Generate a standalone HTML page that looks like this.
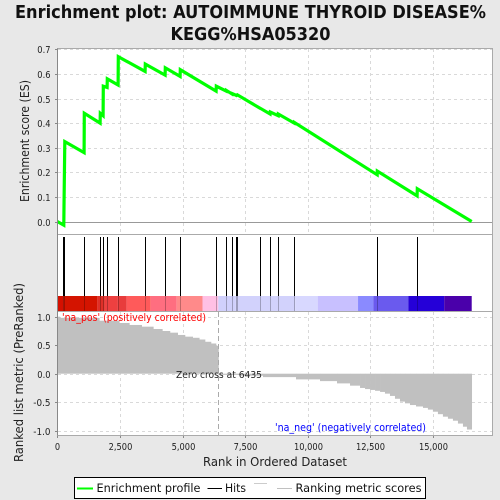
<!DOCTYPE html>
<html>
<head>
<meta charset="utf-8">
<title>Enrichment plot</title>
<style>
html,body{margin:0;padding:0;background:#e8e8e8;}
svg{display:block;font-family:"DejaVu Sans","Liberation Sans",sans-serif;}
</style>
</head>
<body>
<svg id="chart" xmlns="http://www.w3.org/2000/svg" width="500" height="500" viewBox="0 0 500 500">
  <rect x="0" y="0" width="500" height="500" fill="#e8e8e8"/>
  <text x="15" y="18" font-size="17.5" font-weight="bold" fill="#111" textLength="471" lengthAdjust="spacingAndGlyphs">Enrichment plot: AUTOIMMUNE THYROID DISEASE%</text>
  <text x="170.5" y="40" font-size="17.5" font-weight="bold" fill="#111" textLength="160" lengthAdjust="spacingAndGlyphs">KEGG%HSA05320</text>

  <rect x="57.5" y="48.5" width="435" height="186" fill="#fff"/>
  <rect x="57.5" y="234.5" width="435" height="77" fill="#fff"/>
  <rect x="57.5" y="311.5" width="435" height="124" fill="#fff"/>

  <g id="grid"></g>
  <g id="metric"></g>
  <g id="bar"></g>
  <g id="hits"></g>
  <g id="es"></g>
  <g id="axes"></g>

  <rect x="57.5" y="48.5" width="435" height="186" fill="none" stroke="#aaa"/>
  <rect x="57.5" y="234.5" width="435" height="77" fill="none" stroke="#aaa"/>
  <rect x="57.5" y="311.5" width="435" height="124" fill="none" stroke="#aaa"/>
  <line x1="57.5" x2="57.5" y1="48.5" y2="435.5" stroke="#888"/>

  <text x="62" y="321" font-size="10.5" fill="#ff0000" textLength="144" lengthAdjust="spacingAndGlyphs">'na_pos' (positively correlated)</text>
  <text x="176" y="378" font-size="9.5" fill="#222" textLength="86" lengthAdjust="spacingAndGlyphs">Zero cross at 6435</text>
  <text x="275" y="431" font-size="10.5" fill="#0000ff" textLength="151" lengthAdjust="spacingAndGlyphs">'na_neg' (negatively correlated)</text>

  <text transform="translate(29,202) rotate(-90)" font-size="12" fill="#222" textLength="122" lengthAdjust="spacingAndGlyphs">Enrichment score (ES)</text>
  <text transform="translate(23,462) rotate(-90)" font-size="12" fill="#222" textLength="179" lengthAdjust="spacingAndGlyphs">Ranked list metric (PreRanked)</text>
  <text x="203" y="466" font-size="12" fill="#222" textLength="144" lengthAdjust="spacingAndGlyphs">Rank in Ordered Dataset</text>

  <g>
    <rect x="74.5" y="477.5" width="351" height="21" fill="#fff" stroke="#000"/>
    <line x1="77" x2="93" y1="488.5" y2="488.5" stroke="#00ff00" stroke-width="2"/>
    <text x="96.5" y="492" font-size="11.5" fill="#111" textLength="104" lengthAdjust="spacingAndGlyphs">Enrichment profile</text>
    <line x1="207.5" x2="222" y1="488.5" y2="488.5" stroke="#000"/>
    <text x="225" y="492" font-size="11.5" fill="#111" textLength="21" lengthAdjust="spacingAndGlyphs">Hits</text>
    <line x1="254" x2="267" y1="483.5" y2="483.5" stroke="#ccc"/>
    <line x1="277" x2="292" y1="488.5" y2="488.5" stroke="#c0c0c0"/>
    <text x="295.5" y="492" font-size="11.5" fill="#111" textLength="126" lengthAdjust="spacingAndGlyphs">Ranking metric scores</text>
  </g>
</svg>
<script>
const esRanks = [0,260,268,300,1070,1078,1710,1717,1830,1837,1990,1997,2430,2436,3505,3514,4305,4313,4905,4912,6340,6350,6745,6749,6985,6989,7155,7190,8100,8107,8500,8506,8820,8826,9460,9465,12775,12780,14370,14377,16550];
const esValues = [0,-0.015,0.06,0.325,0.28,0.44,0.40,0.44,0.43,0.55,0.545,0.58,0.555,0.67,0.61,0.64,0.595,0.625,0.59,0.617,0.53,0.55,0.53,0.533,0.518,0.52,0.512,0.515,0.46,0.46,0.437,0.445,0.43,0.437,0.40,0.403,0.19,0.205,0.104,0.133,0];
const hitRanks = [250,300,1078,1717,1837,1997,2436,3514,4313,4912,6350,6749,6989,7160,7190,8107,8506,8826,9465,12780,14377];
const metricRanks = [0,100,1678,2477,2877,3370,3835,4195,4500,4808,5100,5407,5670,5900,6138,6338,6435,7300,8215,9533,10491,11170,11690,12090,12290,12490,12690,12890,13085,13285,13485,13685,13885,14085,14325,14604,14800,15000,15200,15400,15600,15800,16000,16200,16360];
const metricValues = [1.0,0.98,0.93,0.89,0.855,0.825,0.784,0.749,0.72,0.68,0.65,0.63,0.60,0.56,0.53,0.49,-0.02,-0.035,-0.06,-0.1,-0.13,-0.17,-0.21,-0.25,-0.27,-0.285,-0.30,-0.32,-0.35,-0.39,-0.44,-0.49,-0.52,-0.55,-0.575,-0.60,-0.63,-0.667,-0.71,-0.754,-0.79,-0.825,-0.875,-0.93,-0.98];
const metricEndRank = 16550;
const zeroCrossRank = 6435;
const barEdges = [0,250,1600,1900,2400,2770,3730,4770,5800,6430,7100,9500,10400,12010,12620,14020,15450,16550];
const barColors = ["#d41000","#d41400","#e03028","#ee4040","#e83c3c","#ff5a5a","#ff6e80","#ff8a8a","#ffc0e4","#d0d0fc","#d2d2fc","#d8d8ff","#c8c0ff","#8a8aff","#6a5aee","#2500d8","#4a00aa"];
const esTicks = [0,0.1,0.2,0.3,0.4,0.5,0.6,0.7];
const esTickLabels = ["0.0","0.1","0.2","0.3","0.4","0.5","0.6","0.7"];
const metricTicks = [-1,-0.5,0,0.5,1];
const metricTickLabels = ["-1.0","-0.5","0.0","0.5","1.0"];
const rankTicks = [0,2500,5000,7500,10000,12500,15000];
const rankTickLabels = ["0","2,500","5,000","7,500","10,000","12,500","15,000"];

const NS = "http://www.w3.org/2000/svg";
const xScale = r => 57.3 + r * 0.02504;
const esY = v => 221.5 - v * 246;
const metricY = v => 373.7 - v * 57;
function labelWidth(s) {
  let w = 0;
  for (const ch of s) w += /[0-9]/.test(ch) ? 5.25 : (ch === "-" ? 4 : 2.7);
  return w;
}
function mk(parent, tag, attrs, text) {
  const el = document.createElementNS(NS, tag);
  for (const k in attrs) el.setAttribute(k, attrs[k]);
  if (text !== undefined) el.textContent = text;
  parent.appendChild(el);
  return el;
}
const grid = document.getElementById("grid");
const axes = document.getElementById("axes");
const dash = {stroke:"#d9d9d9","stroke-dasharray":"3,3","stroke-width":1};

rankTicks.forEach((r, i) => {
  const x = Math.round(xScale(r)) + 0.5;
  if (i > 0) {
    const a = mk(grid, "line", Object.assign({x1:x,x2:x,y1:49,y2:234}, dash));
    
    
    const b = mk(grid, "line", Object.assign({x1:x,x2:x,y1:312,y2:435}, dash));
    
    
  }
  const t = mk(axes, "line", {x1:x,x2:x,y1:435.5,y2:438,stroke:"#888"});
  
  
  const l = mk(axes, "text", {x:x,y:450,"font-size":10,fill:"#222","text-anchor":"middle",textLength:labelWidth(rankTickLabels[i]),lengthAdjust:"spacingAndGlyphs"}, rankTickLabels[i]);
  
  
});
esTicks.forEach((v, i) => {
  const y = Math.round(esY(v)) + 0.5;
  if (v !== 0) {
    const g = mk(grid, "line", Object.assign({x1:58,x2:492,y1:y,y2:y}, dash));
    
    
  }
  const t = mk(axes, "line", {x1:55,x2:57.5,y1:y,y2:y,stroke:"#888"});
  
  
  const l = mk(axes, "text", {x:50.5,y:y+3.5,"font-size":10,fill:"#222","text-anchor":"end",textLength:labelWidth(esTickLabels[i]),lengthAdjust:"spacingAndGlyphs"}, esTickLabels[i]);
  
  
});
const zeroLine = mk(grid, "line", {x1:58,x2:492,y1:Math.round(esY(0))+0.5,y2:Math.round(esY(0))+0.5,stroke:"#999"});


metricTicks.forEach((v, i) => {
  const y = Math.round(metricY(v)) + 0.5;
  const g = mk(grid, "line", Object.assign({x1:58,x2:492,y1:y,y2:y}, dash));
  
  
  const t = mk(axes, "line", {x1:55,x2:57.5,y1:y,y2:y,stroke:"#888"});
  
  
  const l = mk(axes, "text", {x:50.5,y:y+3.5,"font-size":10,fill:"#222","text-anchor":"end",textLength:labelWidth(metricTickLabels[i]),lengthAdjust:"spacingAndGlyphs"}, metricTickLabels[i]);
  
  
});

const metricG = document.getElementById("metric");
metricRanks.forEach((r, i) => {
  const next = i + 1 < metricRanks.length ? metricRanks[i + 1] : metricEndRank;
  const x0 = xScale(r), x1 = xScale(next);
  const y0 = metricY(metricValues[i]), yz = metricY(0);
  const rect = mk(metricG, "rect", {x:x0,y:Math.min(y0,yz),width:x1-x0+0.3,height:Math.abs(yz-y0),fill:"#c0c0c0"});
  
  
});
const zx = Math.round(xScale(zeroCrossRank)) + 0.5;
const zeroCross = mk(metricG, "line", {x1:zx,x2:zx,y1:312,y2:435,stroke:"#aaa","stroke-dasharray":"5,3"});



const barG = document.getElementById("bar");
barColors.forEach((c, i) => {
  const x0 = xScale(barEdges[i]), x1 = xScale(barEdges[i + 1]);
  const seg = mk(barG, "rect", {x:x0,y:296,width:x1-x0,height:15,fill:c});
  
  
});

const hitsG = document.getElementById("hits");
hitRanks.forEach(r => {
  const x = Math.floor(xScale(r)) + 0.5;
  const h = mk(hitsG, "line", {x1:x,x2:x,y1:237,y2:296,stroke:"#000"});
  
  
  const s = mk(hitsG, "line", {x1:x,x2:x,y1:296,y2:311,stroke:"#000","stroke-opacity":0.25});
  
  
});

const esG = document.getElementById("es");
const pts = esRanks.map((r, i) => xScale(r).toFixed(1) + "," + esY(esValues[i]).toFixed(1)).join(" ");
const esLine = mk(esG, "polyline", {points:pts,fill:"none",stroke:"#00ff00","stroke-width":3.2,"stroke-linejoin":"miter","stroke-miterlimit":3});


</script>
</body>
</html>
